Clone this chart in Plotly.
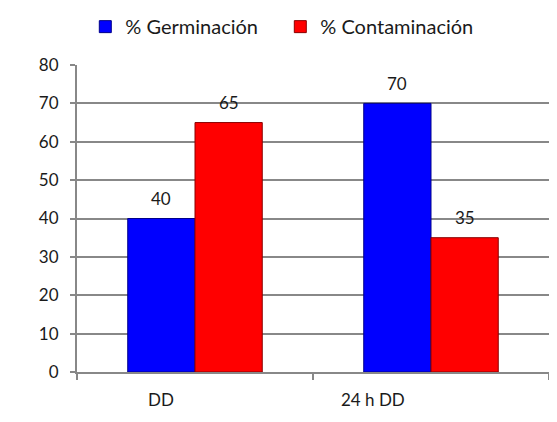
import plotly.graph_objects as go

# data
categories = ['DD', '24 h DD']
germinacion = [40, 70]
contaminacion = [65, 35]
series_names = ['% Germinación', '% Contaminación']
y_ticks = [0, 10, 20, 30, 40, 50, 60, 70, 80]

FONT = 'Lato, Open Sans, sans-serif'
TEXT_COLOR = '#1a1a1a'
GRID = '#888888'


def main():
    fig = go.Figure()

    fig.add_trace(go.Bar(
        x=categories,
        y=germinacion,
        name=series_names[0],
        marker=dict(color='#0000ff', line=dict(color='#00008a', width=1)),
    ))
    fig.add_trace(go.Bar(
        x=categories,
        y=contaminacion,
        name=series_names[1],
        marker=dict(color='#ff0000', line=dict(color='#8a0000', width=1)),
    ))

    # value labels above bars and category labels below (offset like Excel)
    annotations = []
    for i, cat in enumerate(categories):
        for vals, shift in ((germinacion, -33.7), (contaminacion, 33.7)):
            annotations.append(dict(
                x=cat, y=vals[i], xref='x', yref='y',
                text=str(vals[i]), showarrow=False,
                xshift=shift, yshift=20, yanchor='middle',
                font=dict(family=FONT, size=17, color=TEXT_COLOR),
            ))
    label_shift = [-34, -58]
    for cat, shift in zip(categories, label_shift):
        annotations.append(dict(
            x=cat, y=0, xref='x', yref='paper',
            text=cat, showarrow=False,
            xshift=shift, yshift=-27, yanchor='middle',
            font=dict(family=FONT, size=17, color=TEXT_COLOR),
        ))

    # page body has an 8px margin, so the figure is 8px smaller than the window
    fig.update_layout(
        barmode='group',
        bargap=0.43,
        bargroupgap=0,
        width=549,
        height=414,
        margin=dict(l=69, r=8, t=57, b=50, autoexpand=False),
        paper_bgcolor='white',
        plot_bgcolor='white',
        font=dict(family=FONT, size=17, color=TEXT_COLOR),
        showlegend=True,
        legend=dict(
            orientation='h',
            xref='container', yref='container',
            x=0.496, xanchor='center',
            y=0.955, yanchor='middle',
            font=dict(family=FONT, size=20, color=TEXT_COLOR),
            itemwidth=30,
            entrywidth=150,
            traceorder='normal',
        ),
        annotations=annotations,
    )

    fig.update_xaxes(
        type='category',
        showticklabels=False,
        tickson='boundaries',
        ticks='outside',
        ticklen=6,
        tickwidth=2,
        tickcolor=GRID,
        showline=True,
        linecolor=GRID,
        linewidth=2,
        showgrid=False,
    )
    fig.update_yaxes(
        range=[0, 80],
        tickvals=y_ticks,
        ticks='outside',
        ticklen=5,
        tickwidth=2,
        tickcolor=GRID,
        ticklabelstandoff=8,
        showline=True,
        linecolor=GRID,
        linewidth=2,
        showgrid=True,
        gridcolor=GRID,
        gridwidth=2,
        zeroline=False,
        tickfont=dict(family=FONT, size=17, color=TEXT_COLOR),
    )

    fig.write_html('out.html')


if __name__ == '__main__':
    main()
